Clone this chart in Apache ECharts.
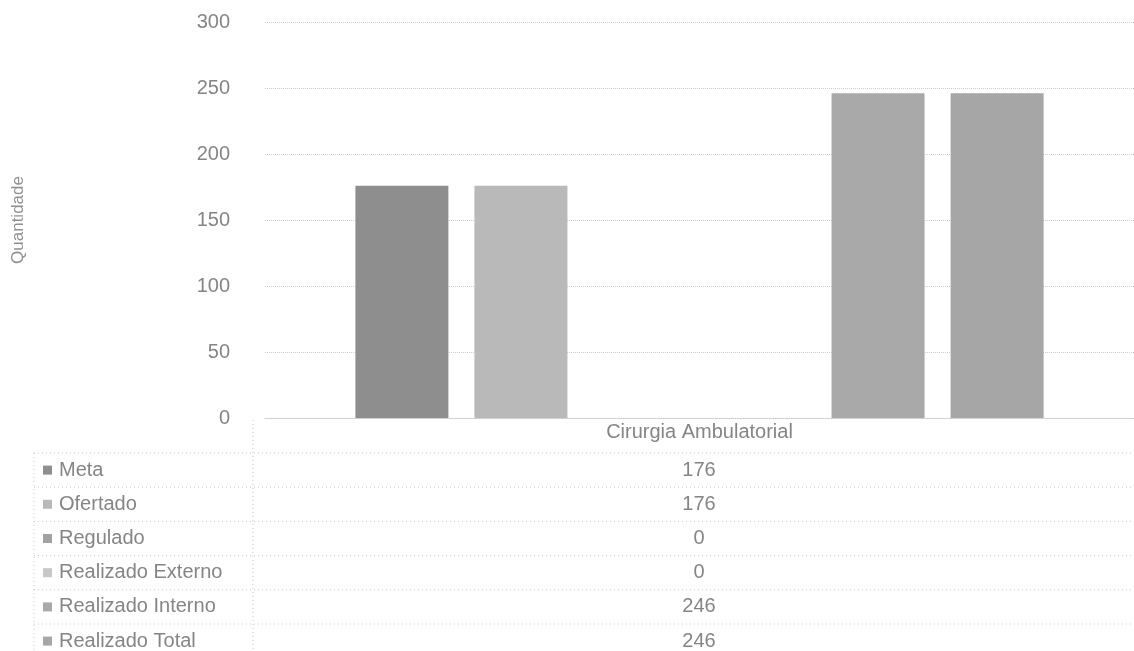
<!DOCTYPE html>
<html>
<head>
<meta charset="utf-8">
<script src="https://cdn.jsdelivr.net/npm/echarts@6/dist/echarts.min.js"></script>
<style>
  html, body { margin: 0; padding: 0; background: #fff; }
</style>
</head>
<body>
<div id="main" style="width: 1134px; height: 651px"></div>
<script>
// dados do gráfico
const categorias = ['Cirurgia Ambulatorial'];
const nomesSeries = ['Meta', 'Ofertado', 'Regulado', 'Realizado Externo', 'Realizado Interno', 'Realizado Total'];
const valores = [176, 176, 0, 0, 246, 246];
const cores = ['#8e8e8e', '#b9b9b9', '#a2a2a2', '#c8c8c8', '#a9a9a9', '#a6a6a6'];

const textColor = '#858585';
const fontFamily = 'Liberation Sans, Arial, sans-serif';

var chartDom = document.getElementById('main');
var myChart = echarts.init(chartDom);

// tabela de dados embaixo do eixo
const rowTop = 453;
const rowH = 34.2;
const graphics = [];

// linhas da tabela
graphics.push({
  type: 'line', silent: true,
  shape: { x1: 253, y1: 420, x2: 253, y2: 651 },
  style: { stroke: '#c8c8c8', lineWidth: 1, lineDash: [1, 3] }
});
graphics.push({
  type: 'line', silent: true,
  shape: { x1: 34, y1: rowTop, x2: 34, y2: 651 },
  style: { stroke: '#c8c8c8', lineWidth: 1, lineDash: [1, 3] }
});
for (let i = 0; i < nomesSeries.length; i++) {
  graphics.push({
    type: 'line', silent: true,
    shape: { x1: 34, y1: rowTop + i * rowH, x2: 1134, y2: rowTop + i * rowH },
    style: { stroke: '#c8c8c8', lineWidth: 1, lineDash: [1, 3] }
  });
}

nomesSeries.forEach(function (nome, i) {
  const cy = rowTop + i * rowH + rowH / 2;
  graphics.push({
    type: 'rect', silent: true,
    shape: { x: 43, y: cy - 4.5, width: 9, height: 9 },
    style: { fill: cores[i] }
  });
  graphics.push({
    type: 'text', silent: true,
    x: 59, y: cy,
    style: {
      text: nome, fill: textColor, fontSize: 20, fontFamily: fontFamily,
      verticalAlign: 'middle', align: 'left'
    }
  });
  graphics.push({
    type: 'text', silent: true,
    x: 699, y: cy,
    style: {
      text: String(valores[i]), fill: textColor, fontSize: 20, fontFamily: fontFamily,
      verticalAlign: 'middle', align: 'center'
    }
  });
});

var option = {
  backgroundColor: '#fff',
  animation: false,
  grid: {
    left: 265,
    right: 0,
    top: 22,
    bottom: 233,
    containLabel: false
  },
  xAxis: {
    type: 'category',
    data: categorias,
    axisLine: { show: true, lineStyle: { color: '#c8c8c8', type: 'dotted' } },
    axisTick: { show: false },
    axisLabel: {
      color: textColor, fontSize: 20, fontFamily: fontFamily, margin: 4
    }
  },
  yAxis: {
    type: 'value',
    min: 0,
    max: 300,
    interval: 50,
    name: 'Quantidade',
    nameLocation: 'middle',
    nameGap: 238,
    nameRotate: 90,
    nameTextStyle: { color: '#909090', fontSize: 17, fontFamily: fontFamily },
    axisLine: { show: false },
    axisTick: { show: false },
    axisLabel: { color: textColor, fontSize: 20, fontFamily: fontFamily, margin: 35 },
    splitLine: { lineStyle: { color: '#cccccc', type: 'dotted', width: 1 } }
  },
  graphic: graphics,
  series: nomesSeries.map(function (nome, i) {
    return {
      name: nome,
      type: 'bar',
      data: [valores[i]],
      barWidth: 93,
      barGap: '28%',
      itemStyle: { color: cores[i] }
    };
  })
};

option && myChart.setOption(option);
</script>
</body>
</html>
